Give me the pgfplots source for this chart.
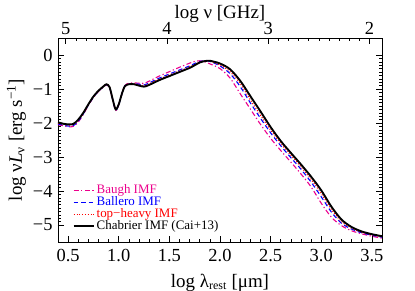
\documentclass[border=0pt]{standalone}
\usepackage{fontspec}
\setmainfont{Liberation Serif}
\usepackage{pgfplots}
\pgfplotsset{compat=1.18}
\begin{document}
\begin{tikzpicture}
\pgfplotsset{
  every axis/.append style={
    scale only axis, width=324bp, height=204bp,
    /pgf/number format/assume math mode=true,
    tick label style={font=\fontsize{18.5}{18.5}\selectfont},
    label style={font=\fontsize{19}{19}\selectfont},
    major tick length=6bp, minor tick length=3bp,
    tick style={black, line width=0.6pt},
    tick align=inside,
  }
}
\begin{axis}[
  at={(0,0)}, anchor=south west,
  xmin=0.4, xmax=3.6, ymin=-5.5, ymax=0.5,
  xtick={0.5,1.0,1.5,2.0,2.5,3.0,3.5},
  xticklabel style={yshift=-4bp, /pgf/number format/.cd, fixed, fixed zerofill, precision=1},
  yticklabel style={xshift=-2bp},
  minor x tick num=4,
  ytick={-5,-4,-3,-2,-1,0},
  yticklabels={−5,−4,−3,−2,−1,0},
  minor y tick num=9,
  xtick pos=bottom, ytick pos=both,
  yticklabel pos=left,
  xlabel={log λ\textsubscript{\fontsize{12}{12}\selectfont rest} [μm]},
  ylabel={log ν\textit{L}\textsubscript{ν} [erg s\textsuperscript{−1}]},
  xlabel style={yshift=-5bp},
  legend style={draw=none, fill=none, at={(0.045,0.285)}, anchor=north west,
    font=\fontsize{13}{13}\selectfont, row sep=0bp, inner sep=0bp,
    nodes={inner xsep=2bp, inner ysep=0.8bp, text height=8.5bp, text depth=2bp}},
  legend cell align=left,
  legend image code/.code={\draw[#1] (0bp,0bp) -- (20bp,0bp);},
]
\addplot[draw=magenta, line width=1.1pt, dash pattern=on 5bp off 2.5bp on 1.2bp off 2.5bp, smooth] coordinates {
(0.40,-2.05)(0.45,-2.08)(0.50,-2.11)(0.55,-2.10)(0.60,-1.97)(0.65,-1.75)(0.70,-1.48)(0.75,-1.25)(0.80,-1.07)(0.85,-0.94)(0.88,-0.88)(0.91,-0.97)(0.94,-1.32)(0.97,-1.63)(1.00,-1.47)(1.03,-1.15)(1.06,-0.90)(1.10,-0.83)(1.15,-0.82)(1.20,-0.83)(1.25,-0.83)(1.30,-0.77)(1.40,-0.62)(1.50,-0.49)(1.60,-0.36)(1.70,-0.24)(1.75,-0.19)(1.80,-0.17)(1.85,-0.20)(1.90,-0.26)(2.00,-0.40)(2.10,-0.68)(2.20,-1.14)(2.30,-1.59)(2.40,-2.04)(2.50,-2.45)(2.60,-2.81)(2.70,-3.15)(2.80,-3.50)(2.90,-3.88)(3.00,-4.36)(3.10,-4.77)(3.20,-5.02)(3.30,-5.17)(3.40,-5.26)(3.50,-5.33)(3.60,-5.39)
};
\addlegendentry{\textcolor{magenta}{Baugh IMF}}
\addplot[draw=blue, line width=1.1pt, dash pattern=on 4.5bp off 3bp, smooth] coordinates {
(0.40,-2.03)(0.45,-2.06)(0.50,-2.09)(0.55,-2.08)(0.60,-1.95)(0.65,-1.73)(0.70,-1.47)(0.75,-1.24)(0.80,-1.06)(0.85,-0.93)(0.88,-0.87)(0.91,-0.96)(0.94,-1.31)(0.97,-1.62)(1.00,-1.46)(1.03,-1.15)(1.06,-0.91)(1.10,-0.85)(1.15,-0.84)(1.20,-0.86)(1.25,-0.88)(1.30,-0.82)(1.40,-0.68)(1.50,-0.56)(1.60,-0.44)(1.70,-0.32)(1.75,-0.25)(1.80,-0.19)(1.85,-0.17)(1.90,-0.19)(2.00,-0.32)(2.10,-0.55)(2.20,-0.93)(2.30,-1.41)(2.40,-1.86)(2.50,-2.29)(2.60,-2.67)(2.70,-3.02)(2.80,-3.36)(2.90,-3.74)(3.00,-4.17)(3.10,-4.62)(3.20,-4.95)(3.30,-5.12)(3.40,-5.23)(3.50,-5.30)(3.60,-5.36)
};
\addlegendentry{\textcolor{blue}{Ballero IMF}}
\addplot[draw=red, line width=1.1pt, dash pattern=on 1bp off 1.8bp, smooth] coordinates {
(0.40,-2.00)(0.45,-2.04)(0.50,-2.06)(0.55,-2.05)(0.60,-1.92)(0.65,-1.71)(0.70,-1.46)(0.75,-1.23)(0.80,-1.05)(0.85,-0.92)(0.88,-0.86)(0.91,-0.95)(0.94,-1.30)(0.97,-1.61)(1.00,-1.45)(1.03,-1.15)(1.06,-0.92)(1.10,-0.86)(1.15,-0.85)(1.20,-0.88)(1.25,-0.90)(1.30,-0.85)(1.40,-0.71)(1.50,-0.59)(1.60,-0.47)(1.70,-0.35)(1.75,-0.28)(1.80,-0.21)(1.85,-0.17)(1.90,-0.18)(2.00,-0.29)(2.10,-0.49)(2.20,-0.84)(2.30,-1.32)(2.40,-1.77)(2.50,-2.21)(2.60,-2.60)(2.70,-2.95)(2.80,-3.29)(2.90,-3.66)(3.00,-4.07)(3.10,-4.54)(3.20,-4.90)(3.30,-5.09)(3.40,-5.21)(3.50,-5.29)(3.60,-5.35)
};
\addlegendentry{\textcolor{red}{top−heavy IMF}}
\addplot[draw=black, line width=1.9pt, smooth] coordinates {
(0.40,-1.98)(0.45,-2.02)(0.50,-2.04)(0.55,-2.03)(0.60,-1.90)(0.65,-1.70)(0.70,-1.45)(0.75,-1.22)(0.80,-1.05)(0.85,-0.92)(0.88,-0.86)(0.91,-0.95)(0.94,-1.30)(0.97,-1.60)(1.00,-1.45)(1.03,-1.15)(1.06,-0.92)(1.10,-0.86)(1.15,-0.86)(1.20,-0.90)(1.25,-0.93)(1.30,-0.88)(1.40,-0.74)(1.50,-0.62)(1.60,-0.50)(1.70,-0.38)(1.75,-0.30)(1.80,-0.22)(1.85,-0.18)(1.90,-0.17)(2.00,-0.25)(2.10,-0.42)(2.20,-0.76)(2.30,-1.21)(2.40,-1.66)(2.50,-2.12)(2.60,-2.53)(2.70,-2.88)(2.80,-3.22)(2.90,-3.58)(3.00,-3.98)(3.10,-4.46)(3.20,-4.84)(3.30,-5.06)(3.40,-5.19)(3.50,-5.27)(3.60,-5.33)
};
\addlegendentry{Chabrier IMF (Cai+13)}
\end{axis}
\begin{axis}[
  at={(0,0)}, anchor=south west,
  xmin=1.877, xmax=5.077, x dir=reverse,
  ymin=-5.5, ymax=0.5,
  axis x line*=top, axis y line=none,
  xtick={2,3,4,5}, minor x tick num=9,
  xlabel={log ν [GHz]},
  xlabel style={yshift=-7bp},
]
\addplot[draw=none] coordinates {(2,0)};
\end{axis}
\pgfresetboundingbox
\path[use as bounding box] (-58bp,-49bp) rectangle (357bp,242bp);
\end{tikzpicture}
\end{document}
